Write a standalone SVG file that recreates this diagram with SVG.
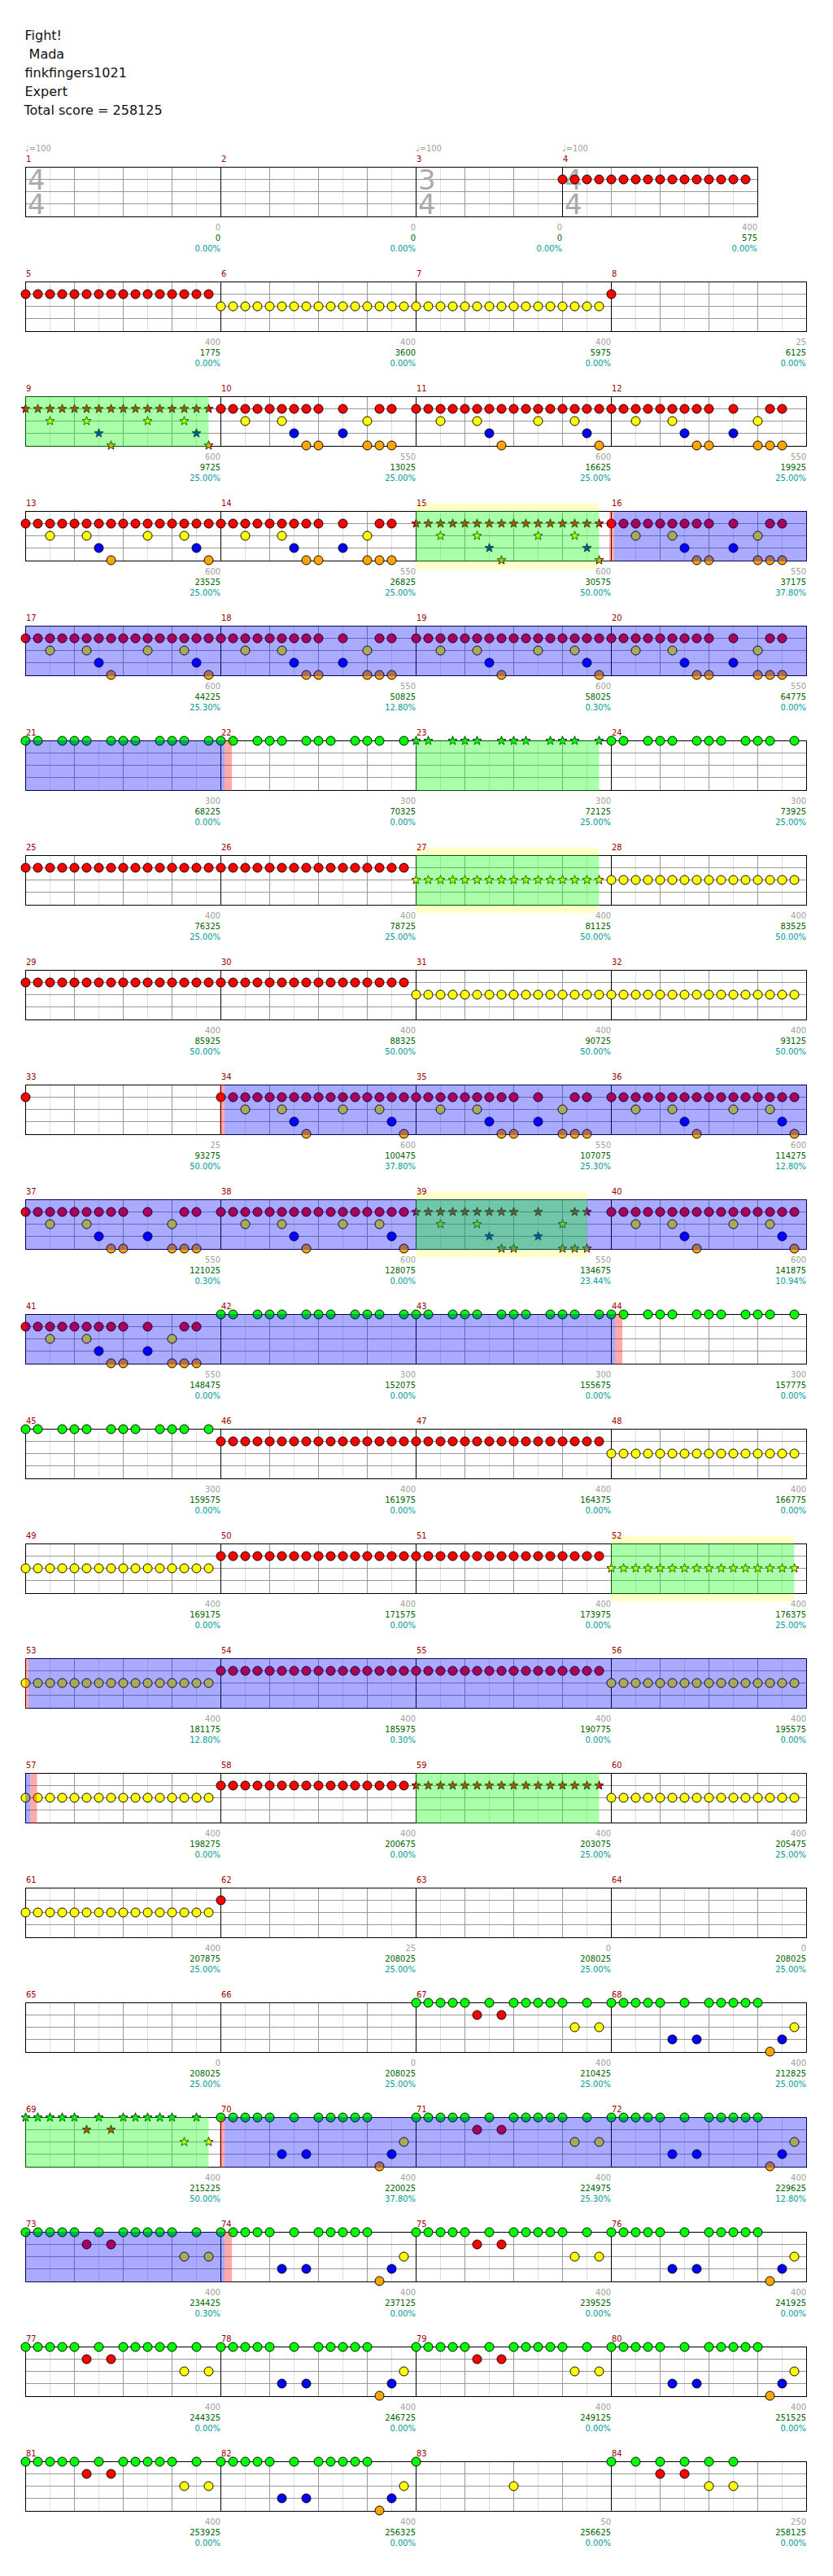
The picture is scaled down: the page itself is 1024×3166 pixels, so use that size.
<svg xmlns="http://www.w3.org/2000/svg" xmlns:xlink="http://www.w3.org/1999/xlink" width="1024" height="3166" viewBox="0 0 1024 3166">
<style>
.h{font:16px 'DejaVu Sans',sans-serif;fill:#111}
.n,.v,.s,.p,.t{font-family:'DejaVu Sans Condensed','DejaVu Sans',sans-serif;font-stretch:condensed;font-size:11px}
.n{fill:#990000}
.t{fill:#a0a0a0}
.v{fill:#a0a0a0;text-anchor:end}
.s{fill:#006400;text-anchor:end}
.p{fill:#009999;text-anchor:end}
.ts{font:34px 'DejaVu Sans',sans-serif;fill:#aaaaaa}
.c{stroke:#000;stroke-width:1}
.st{stroke:#000;stroke-width:0.8}
.ovB{fill:#0000ff;fill-opacity:0.333}
.ovG{fill:#00ff00;fill-opacity:0.333}
.ovR{fill:#ff0000;fill-opacity:0.333}
.bd{fill:#ffffcc}
</style>
<defs>
<circle id="cG" r="5.5" fill="#00ff00" class="c"/>
<circle id="cR" cy="15" r="5.5" fill="#ff0000" class="c"/>
<circle id="cY" cy="30" r="5.5" fill="#ffff00" class="c"/>
<circle id="cB" cy="45" r="5.5" fill="#0000ff" class="c"/>
<circle id="cO" cy="60" r="5.5" fill="#ffa500" class="c"/>
<path id="star" class="st" d="M0,-5.8L1.41,-1.94L5.52,-1.79L2.28,0.74L3.41,4.69L0,2.4L-3.41,4.69L-2.28,0.74L-5.52,-1.79L-1.41,-1.94Z"/>
<use id="sG" href="#star" fill="#00ff00"/>
<use id="sR" href="#star" y="15" fill="#ff0000"/>
<use id="sY" href="#star" y="30" fill="#ffff00"/>
<use id="sB" href="#star" y="45" fill="#0000ff"/>
<use id="sO" href="#star" y="60" fill="#ffa500"/>
<g id="R4"><use href="#cR"/><use href="#cR" x="15"/><use href="#cR" x="30"/><use href="#cR" x="45"/></g>
<g id="R16"><use href="#R4"/><use href="#R4" x="60"/><use href="#R4" x="120"/><use href="#R4" x="180"/></g>
<g id="Y4"><use href="#cY"/><use href="#cY" x="15"/><use href="#cY" x="30"/><use href="#cY" x="45"/></g>
<g id="Y16"><use href="#Y4"/><use href="#Y4" x="60"/><use href="#Y4" x="120"/><use href="#Y4" x="180"/></g>
<g id="sR4"><use href="#sR"/><use href="#sR" x="15"/><use href="#sR" x="30"/><use href="#sR" x="45"/></g>
<g id="sR16"><use href="#sR4"/><use href="#sR4" x="60"/><use href="#sR4" x="120"/><use href="#sR4" x="180"/></g>
<g id="sY4"><use href="#sY"/><use href="#sY" x="15"/><use href="#sY" x="30"/><use href="#sY" x="45"/></g>
<g id="sY16"><use href="#sY4"/><use href="#sY4" x="60"/><use href="#sY4" x="120"/><use href="#sY4" x="180"/></g>
<g id="P"><use href="#R16"/><use href="#cY" x="30"/><use href="#cY" x="75"/><use href="#cY" x="150"/><use href="#cY" x="195"/><use href="#cB" x="90"/><use href="#cB" x="210"/><use href="#cO" x="105"/><use href="#cO" x="225"/></g>
<g id="sP"><use href="#sR16"/><use href="#sY" x="30"/><use href="#sY" x="75"/><use href="#sY" x="150"/><use href="#sY" x="195"/><use href="#sB" x="90"/><use href="#sB" x="210"/><use href="#sO" x="105"/><use href="#sO" x="225"/></g>
<g id="Q"><use href="#R4"/><use href="#R4" x="60"/><use href="#cR" x="120"/><use href="#cR" x="150"/><use href="#cR" x="195"/><use href="#cR" x="210"/><use href="#cY" x="30"/><use href="#cY" x="75"/><use href="#cY" x="180"/><use href="#cB" x="90"/><use href="#cB" x="150"/><use href="#cO" x="105"/><use href="#cO" x="120"/><use href="#cO" x="180"/><use href="#cO" x="195"/><use href="#cO" x="210"/></g>
<g id="sQ"><use href="#sR4"/><use href="#sR4" x="60"/><use href="#sR" x="120"/><use href="#sR" x="150"/><use href="#sR" x="195"/><use href="#sR" x="210"/><use href="#sY" x="30"/><use href="#sY" x="75"/><use href="#sY" x="180"/><use href="#sB" x="90"/><use href="#sB" x="150"/><use href="#sO" x="105"/><use href="#sO" x="120"/><use href="#sO" x="180"/><use href="#sO" x="195"/><use href="#sO" x="210"/></g>
<g id="G1"><use href="#cG"/><use href="#cG" x="15"/><use href="#cG" x="45"/><use href="#cG" x="60"/><use href="#cG" x="75"/><use href="#cG" x="105"/><use href="#cG" x="120"/><use href="#cG" x="135"/><use href="#cG" x="165"/><use href="#cG" x="180"/><use href="#cG" x="195"/><use href="#cG" x="225"/></g>
<g id="sG1"><use href="#sG"/><use href="#sG" x="15"/><use href="#sG" x="45"/><use href="#sG" x="60"/><use href="#sG" x="75"/><use href="#sG" x="105"/><use href="#sG" x="120"/><use href="#sG" x="135"/><use href="#sG" x="165"/><use href="#sG" x="180"/><use href="#sG" x="195"/><use href="#sG" x="225"/></g>
<g id="H"><use href="#cG"/><use href="#cG" x="15"/><use href="#cG" x="30"/><use href="#cG" x="45"/><use href="#cG" x="60"/><use href="#cG" x="90"/><use href="#cG" x="120"/><use href="#cG" x="135"/><use href="#cG" x="150"/><use href="#cG" x="165"/><use href="#cG" x="180"/><use href="#cG" x="210"/><use href="#cR" x="75"/><use href="#cR" x="105"/><use href="#cY" x="195"/><use href="#cY" x="225"/></g>
<g id="sH"><use href="#sG"/><use href="#sG" x="15"/><use href="#sG" x="30"/><use href="#sG" x="45"/><use href="#sG" x="60"/><use href="#sG" x="90"/><use href="#sG" x="120"/><use href="#sG" x="135"/><use href="#sG" x="150"/><use href="#sG" x="165"/><use href="#sG" x="180"/><use href="#sG" x="210"/><use href="#sR" x="75"/><use href="#sR" x="105"/><use href="#sY" x="195"/><use href="#sY" x="225"/></g>
<g id="I"><use href="#cG"/><use href="#cG" x="15"/><use href="#cG" x="30"/><use href="#cG" x="45"/><use href="#cG" x="60"/><use href="#cG" x="90"/><use href="#cG" x="120"/><use href="#cG" x="135"/><use href="#cG" x="150"/><use href="#cG" x="165"/><use href="#cG" x="180"/><use href="#cB" x="75"/><use href="#cB" x="105"/><use href="#cB" x="210"/><use href="#cO" x="195"/><use href="#cY" x="225"/></g>
<g id="staff">
<rect x="31.5" y="0" width="960" height="61" fill="#fff"/>
<path d="M61.5 0V61M121.5 0V61M181.5 0V61M241.5 0V61M301.5 0V61M361.5 0V61M421.5 0V61M481.5 0V61M541.5 0V61M601.5 0V61M661.5 0V61M721.5 0V61M781.5 0V61M841.5 0V61M901.5 0V61M961.5 0V61" stroke="#dddddd"/>
<path d="M91.5 0V61M151.5 0V61M211.5 0V61M331.5 0V61M391.5 0V61M451.5 0V61M571.5 0V61M631.5 0V61M691.5 0V61M811.5 0V61M871.5 0V61M931.5 0V61M31.5 15H991.5M31.5 30H991.5M31.5 45H991.5" stroke="#999999"/>
<path d="M271.5 0V61M511.5 0V61M751.5 0V61" stroke="#000"/>
<rect x="31.5" y="0" width="960" height="61" fill="none" stroke="#000"/>
</g>
<g id="staff0">
<rect x="31.5" y="0" width="900" height="61" fill="#fff"/>
<path d="M61.5 0V61M121.5 0V61M181.5 0V61M241.5 0V61M301.5 0V61M361.5 0V61M421.5 0V61M481.5 0V61M541.5 0V61M601.5 0V61M661.5 0V61M721.5 0V61M781.5 0V61M841.5 0V61M901.5 0V61" stroke="#dddddd"/>
<path d="M91.5 0V61M151.5 0V61M211.5 0V61M331.5 0V61M391.5 0V61M451.5 0V61M571.5 0V61M631.5 0V61M751.5 0V61M811.5 0V61M871.5 0V61M31.5 15H931.5M31.5 30H931.5M31.5 45H931.5" stroke="#999999"/>
<path d="M271.5 0V61M511.5 0V61M691.5 0V61" stroke="#000"/>
<rect x="31.5" y="0" width="900" height="61" fill="none" stroke="#000"/>
</g>
</defs>
<rect width="1024" height="3166" fill="#fff"/>
<g id="header">
<text class="h" x="30.5" y="49">Fight!</text>
<text class="h" x="30.5" y="72" xml:space="preserve"> Mada</text>
<text class="h" x="30.5" y="95">finkfingers1021</text>
<text class="h" x="30.5" y="118">Expert</text>
<text class="h" x="29.5" y="141">Total score = 258125</text>
</g>

<g id="row0" transform="translate(0,205.5)">
<use href="#staff0"/>
<text class="ts" x="34" y="27.5">4<tspan x="34" y="57.5">4</tspan></text>
<text class="ts" x="514" y="27.5">3<tspan x="514" y="57.5">4</tspan></text>
<text class="ts" x="694" y="27.5">4<tspan x="694" y="57.5">4</tspan></text>
<g id="m1"><text class="t" x="31" y="-20">♩=100</text><text class="n" x="32" y="-7">1</text><text class="v" x="271" y="77">0</text><text class="s" x="271" y="90">0</text><text class="p" x="271" y="103">0.00%</text></g>
<g id="m2"><text class="n" x="272" y="-7">2</text><text class="v" x="511" y="77">0</text><text class="s" x="511" y="90">0</text><text class="p" x="511" y="103">0.00%</text></g>
<g id="m3"><text class="t" x="511" y="-20">♩=100</text><text class="n" x="512" y="-7">3</text><text class="v" x="691" y="77">0</text><text class="s" x="691" y="90">0</text><text class="p" x="691" y="103">0.00%</text></g>
<g id="m4"><text class="t" x="691" y="-20">♩=100</text><text class="n" x="692" y="-7">4</text><use href="#R16" x="691.5"/><text class="v" x="931" y="77">400</text><text class="s" x="931" y="90">575</text><text class="p" x="931" y="103">0.00%</text></g>
</g>

<g id="row1" transform="translate(0,346.5)">
<use href="#staff"/>
<g id="m5"><text class="n" x="32" y="-7">5</text><use href="#R16" x="31.5"/><text class="v" x="271" y="77">400</text><text class="s" x="271" y="90">1775</text><text class="p" x="271" y="103">0.00%</text></g>
<g id="m6"><text class="n" x="272" y="-7">6</text><use href="#Y16" x="271.5"/><text class="v" x="511" y="77">400</text><text class="s" x="511" y="90">3600</text><text class="p" x="511" y="103">0.00%</text></g>
<g id="m7"><text class="n" x="512" y="-7">7</text><use href="#Y16" x="511.5"/><text class="v" x="751" y="77">400</text><text class="s" x="751" y="90">5975</text><text class="p" x="751" y="103">0.00%</text></g>
<g id="m8"><text class="n" x="752" y="-7">8</text><use href="#cR" x="751.5"/><text class="v" x="991" y="77">25</text><text class="s" x="991" y="90">6125</text><text class="p" x="991" y="103">0.00%</text></g>
</g>

<g id="row2" transform="translate(0,487.5)">
<use href="#staff"/>
<g id="m9"><text class="n" x="32" y="-7">9</text><use href="#sP" x="31.5"/><text class="v" x="271" y="77">600</text><text class="s" x="271" y="90">9725</text><text class="p" x="271" y="103">25.00%</text></g>
<g id="m10"><text class="n" x="272" y="-7">10</text><use href="#Q" x="271.5"/><text class="v" x="511" y="77">550</text><text class="s" x="511" y="90">13025</text><text class="p" x="511" y="103">25.00%</text></g>
<g id="m11"><text class="n" x="512" y="-7">11</text><use href="#P" x="511.5"/><text class="v" x="751" y="77">600</text><text class="s" x="751" y="90">16625</text><text class="p" x="751" y="103">25.00%</text></g>
<g id="m12"><text class="n" x="752" y="-7">12</text><use href="#Q" x="751.5"/><text class="v" x="991" y="77">550</text><text class="s" x="991" y="90">19925</text><text class="p" x="991" y="103">25.00%</text></g>
<rect class="ovG" x="31" y="-0.5" width="225.5" height="62"/>
</g>

<g id="row3" transform="translate(0,628.5)">
<rect class="bd" x="511" y="-10" width="225" height="81"/>
<use href="#staff"/>
<g id="m13"><text class="n" x="32" y="-7">13</text><use href="#P" x="31.5"/><text class="v" x="271" y="77">600</text><text class="s" x="271" y="90">23525</text><text class="p" x="271" y="103">25.00%</text></g>
<g id="m14"><text class="n" x="272" y="-7">14</text><use href="#Q" x="271.5"/><text class="v" x="511" y="77">550</text><text class="s" x="511" y="90">26825</text><text class="p" x="511" y="103">25.00%</text></g>
<g id="m15"><text class="n" x="512" y="-7">15</text><use href="#sP" x="511.5"/><text class="v" x="751" y="77">600</text><text class="s" x="751" y="90">30575</text><text class="p" x="751" y="103">50.00%</text></g>
<g id="m16"><text class="n" x="752" y="-7">16</text><use href="#Q" x="751.5"/><text class="v" x="991" y="77">550</text><text class="s" x="991" y="90">37175</text><text class="p" x="991" y="103">37.80%</text></g>
<rect class="ovG" x="511" y="-0.5" width="225.5" height="62"/>
<rect class="ovR" x="749" y="-0.5" width="6" height="62"/>
<rect class="ovB" x="755" y="-0.5" width="237" height="62"/>
</g>

<g id="row4" transform="translate(0,769.5)">
<use href="#staff"/>
<g id="m17"><text class="n" x="32" y="-7">17</text><use href="#P" x="31.5"/><text class="v" x="271" y="77">600</text><text class="s" x="271" y="90">44225</text><text class="p" x="271" y="103">25.30%</text></g>
<g id="m18"><text class="n" x="272" y="-7">18</text><use href="#Q" x="271.5"/><text class="v" x="511" y="77">550</text><text class="s" x="511" y="90">50825</text><text class="p" x="511" y="103">12.80%</text></g>
<g id="m19"><text class="n" x="512" y="-7">19</text><use href="#P" x="511.5"/><text class="v" x="751" y="77">600</text><text class="s" x="751" y="90">58025</text><text class="p" x="751" y="103">0.30%</text></g>
<g id="m20"><text class="n" x="752" y="-7">20</text><use href="#Q" x="751.5"/><text class="v" x="991" y="77">550</text><text class="s" x="991" y="90">64775</text><text class="p" x="991" y="103">0.00%</text></g>
<rect class="ovB" x="31" y="-0.5" width="961" height="62"/>
</g>

<g id="row5" transform="translate(0,910.5)">
<use href="#staff"/>
<g id="m21"><text class="n" x="32" y="-7">21</text><use href="#G1" x="31.5"/><text class="v" x="271" y="77">300</text><text class="s" x="271" y="90">68225</text><text class="p" x="271" y="103">0.00%</text></g>
<g id="m22"><text class="n" x="272" y="-7">22</text><use href="#G1" x="271.5"/><text class="v" x="511" y="77">300</text><text class="s" x="511" y="90">70325</text><text class="p" x="511" y="103">0.00%</text></g>
<g id="m23"><text class="n" x="512" y="-7">23</text><use href="#sG1" x="511.5"/><text class="v" x="751" y="77">300</text><text class="s" x="751" y="90">72125</text><text class="p" x="751" y="103">25.00%</text></g>
<g id="m24"><text class="n" x="752" y="-7">24</text><use href="#G1" x="751.5"/><text class="v" x="991" y="77">300</text><text class="s" x="991" y="90">73925</text><text class="p" x="991" y="103">25.00%</text></g>
<rect class="ovB" x="31" y="-0.5" width="245" height="62"/>
<rect class="ovR" x="276" y="-0.5" width="9" height="62"/>
<rect class="ovG" x="511" y="-0.5" width="225.5" height="62"/>
</g>

<g id="row6" transform="translate(0,1051.5)">
<rect class="bd" x="511" y="-10" width="225" height="81"/>
<use href="#staff"/>
<g id="m25"><text class="n" x="32" y="-7">25</text><use href="#R16" x="31.5"/><text class="v" x="271" y="77">400</text><text class="s" x="271" y="90">76325</text><text class="p" x="271" y="103">25.00%</text></g>
<g id="m26"><text class="n" x="272" y="-7">26</text><use href="#R16" x="271.5"/><text class="v" x="511" y="77">400</text><text class="s" x="511" y="90">78725</text><text class="p" x="511" y="103">25.00%</text></g>
<g id="m27"><text class="n" x="512" y="-7">27</text><use href="#sY16" x="511.5"/><text class="v" x="751" y="77">400</text><text class="s" x="751" y="90">81125</text><text class="p" x="751" y="103">50.00%</text></g>
<g id="m28"><text class="n" x="752" y="-7">28</text><use href="#Y16" x="751.5"/><text class="v" x="991" y="77">400</text><text class="s" x="991" y="90">83525</text><text class="p" x="991" y="103">50.00%</text></g>
<rect class="ovG" x="511" y="-0.5" width="225.5" height="62"/>
</g>

<g id="row7" transform="translate(0,1192.5)">
<use href="#staff"/>
<g id="m29"><text class="n" x="32" y="-7">29</text><use href="#R16" x="31.5"/><text class="v" x="271" y="77">400</text><text class="s" x="271" y="90">85925</text><text class="p" x="271" y="103">50.00%</text></g>
<g id="m30"><text class="n" x="272" y="-7">30</text><use href="#R16" x="271.5"/><text class="v" x="511" y="77">400</text><text class="s" x="511" y="90">88325</text><text class="p" x="511" y="103">50.00%</text></g>
<g id="m31"><text class="n" x="512" y="-7">31</text><use href="#Y16" x="511.5"/><text class="v" x="751" y="77">400</text><text class="s" x="751" y="90">90725</text><text class="p" x="751" y="103">50.00%</text></g>
<g id="m32"><text class="n" x="752" y="-7">32</text><use href="#Y16" x="751.5"/><text class="v" x="991" y="77">400</text><text class="s" x="991" y="90">93125</text><text class="p" x="991" y="103">50.00%</text></g>
</g>

<g id="row8" transform="translate(0,1333.5)">
<use href="#staff"/>
<g id="m33"><text class="n" x="32" y="-7">33</text><use href="#cR" x="31.5"/><text class="v" x="271" y="77">25</text><text class="s" x="271" y="90">93275</text><text class="p" x="271" y="103">50.00%</text></g>
<g id="m34"><text class="n" x="272" y="-7">34</text><use href="#P" x="271.5"/><text class="v" x="511" y="77">600</text><text class="s" x="511" y="90">100475</text><text class="p" x="511" y="103">37.80%</text></g>
<g id="m35"><text class="n" x="512" y="-7">35</text><use href="#Q" x="511.5"/><text class="v" x="751" y="77">550</text><text class="s" x="751" y="90">107075</text><text class="p" x="751" y="103">25.30%</text></g>
<g id="m36"><text class="n" x="752" y="-7">36</text><use href="#P" x="751.5"/><text class="v" x="991" y="77">600</text><text class="s" x="991" y="90">114275</text><text class="p" x="991" y="103">12.80%</text></g>
<rect class="ovR" x="270" y="-0.5" width="6" height="62"/>
<rect class="ovB" x="276" y="-0.5" width="716" height="62"/>
</g>

<g id="row9" transform="translate(0,1474.5)">
<rect class="bd" x="511" y="-10" width="210" height="81"/>
<use href="#staff"/>
<g id="m37"><text class="n" x="32" y="-7">37</text><use href="#Q" x="31.5"/><text class="v" x="271" y="77">550</text><text class="s" x="271" y="90">121025</text><text class="p" x="271" y="103">0.30%</text></g>
<g id="m38"><text class="n" x="272" y="-7">38</text><use href="#P" x="271.5"/><text class="v" x="511" y="77">600</text><text class="s" x="511" y="90">128075</text><text class="p" x="511" y="103">0.00%</text></g>
<g id="m39"><text class="n" x="512" y="-7">39</text><use href="#sQ" x="511.5"/><text class="v" x="751" y="77">550</text><text class="s" x="751" y="90">134675</text><text class="p" x="751" y="103">23.44%</text></g>
<g id="m40"><text class="n" x="752" y="-7">40</text><use href="#P" x="751.5"/><text class="v" x="991" y="77">600</text><text class="s" x="991" y="90">141875</text><text class="p" x="991" y="103">10.94%</text></g>
<rect class="ovB" x="31" y="-0.5" width="961" height="62"/>
<rect class="ovG" x="511" y="-0.5" width="210.5" height="62"/>
</g>

<g id="row10" transform="translate(0,1615.5)">
<use href="#staff"/>
<g id="m41"><text class="n" x="32" y="-7">41</text><use href="#Q" x="31.5"/><text class="v" x="271" y="77">550</text><text class="s" x="271" y="90">148475</text><text class="p" x="271" y="103">0.00%</text></g>
<g id="m42"><text class="n" x="272" y="-7">42</text><use href="#G1" x="271.5"/><text class="v" x="511" y="77">300</text><text class="s" x="511" y="90">152075</text><text class="p" x="511" y="103">0.00%</text></g>
<g id="m43"><text class="n" x="512" y="-7">43</text><use href="#G1" x="511.5"/><text class="v" x="751" y="77">300</text><text class="s" x="751" y="90">155675</text><text class="p" x="751" y="103">0.00%</text></g>
<g id="m44"><text class="n" x="752" y="-7">44</text><use href="#G1" x="751.5"/><text class="v" x="991" y="77">300</text><text class="s" x="991" y="90">157775</text><text class="p" x="991" y="103">0.00%</text></g>
<rect class="ovB" x="31" y="-0.5" width="725" height="62"/>
<rect class="ovR" x="756" y="-0.5" width="9" height="62"/>
</g>

<g id="row11" transform="translate(0,1756.5)">
<use href="#staff"/>
<g id="m45"><text class="n" x="32" y="-7">45</text><use href="#G1" x="31.5"/><text class="v" x="271" y="77">300</text><text class="s" x="271" y="90">159575</text><text class="p" x="271" y="103">0.00%</text></g>
<g id="m46"><text class="n" x="272" y="-7">46</text><use href="#R16" x="271.5"/><text class="v" x="511" y="77">400</text><text class="s" x="511" y="90">161975</text><text class="p" x="511" y="103">0.00%</text></g>
<g id="m47"><text class="n" x="512" y="-7">47</text><use href="#R16" x="511.5"/><text class="v" x="751" y="77">400</text><text class="s" x="751" y="90">164375</text><text class="p" x="751" y="103">0.00%</text></g>
<g id="m48"><text class="n" x="752" y="-7">48</text><use href="#Y16" x="751.5"/><text class="v" x="991" y="77">400</text><text class="s" x="991" y="90">166775</text><text class="p" x="991" y="103">0.00%</text></g>
</g>

<g id="row12" transform="translate(0,1897.5)">
<rect class="bd" x="751" y="-10" width="225" height="81"/>
<use href="#staff"/>
<g id="m49"><text class="n" x="32" y="-7">49</text><use href="#Y16" x="31.5"/><text class="v" x="271" y="77">400</text><text class="s" x="271" y="90">169175</text><text class="p" x="271" y="103">0.00%</text></g>
<g id="m50"><text class="n" x="272" y="-7">50</text><use href="#R16" x="271.5"/><text class="v" x="511" y="77">400</text><text class="s" x="511" y="90">171575</text><text class="p" x="511" y="103">0.00%</text></g>
<g id="m51"><text class="n" x="512" y="-7">51</text><use href="#R16" x="511.5"/><text class="v" x="751" y="77">400</text><text class="s" x="751" y="90">173975</text><text class="p" x="751" y="103">0.00%</text></g>
<g id="m52"><text class="n" x="752" y="-7">52</text><use href="#sY16" x="751.5"/><text class="v" x="991" y="77">400</text><text class="s" x="991" y="90">176375</text><text class="p" x="991" y="103">25.00%</text></g>
<rect class="ovG" x="751" y="-0.5" width="225.5" height="62"/>
</g>

<g id="row13" transform="translate(0,2038.5)">
<use href="#staff"/>
<g id="m53"><text class="n" x="32" y="-7">53</text><use href="#Y16" x="31.5"/><text class="v" x="271" y="77">400</text><text class="s" x="271" y="90">181175</text><text class="p" x="271" y="103">12.80%</text></g>
<g id="m54"><text class="n" x="272" y="-7">54</text><use href="#R16" x="271.5"/><text class="v" x="511" y="77">400</text><text class="s" x="511" y="90">185975</text><text class="p" x="511" y="103">0.30%</text></g>
<g id="m55"><text class="n" x="512" y="-7">55</text><use href="#R16" x="511.5"/><text class="v" x="751" y="77">400</text><text class="s" x="751" y="90">190775</text><text class="p" x="751" y="103">0.00%</text></g>
<g id="m56"><text class="n" x="752" y="-7">56</text><use href="#Y16" x="751.5"/><text class="v" x="991" y="77">400</text><text class="s" x="991" y="90">195575</text><text class="p" x="991" y="103">0.00%</text></g>
<rect class="ovR" x="31" y="-0.5" width="4" height="62"/>
<rect class="ovB" x="35" y="-0.5" width="957" height="62"/>
</g>

<g id="row14" transform="translate(0,2179.5)">
<use href="#staff"/>
<g id="m57"><text class="n" x="32" y="-7">57</text><use href="#Y16" x="31.5"/><text class="v" x="271" y="77">400</text><text class="s" x="271" y="90">198275</text><text class="p" x="271" y="103">0.00%</text></g>
<g id="m58"><text class="n" x="272" y="-7">58</text><use href="#R16" x="271.5"/><text class="v" x="511" y="77">400</text><text class="s" x="511" y="90">200675</text><text class="p" x="511" y="103">0.00%</text></g>
<g id="m59"><text class="n" x="512" y="-7">59</text><use href="#sR16" x="511.5"/><text class="v" x="751" y="77">400</text><text class="s" x="751" y="90">203075</text><text class="p" x="751" y="103">25.00%</text></g>
<g id="m60"><text class="n" x="752" y="-7">60</text><use href="#Y16" x="751.5"/><text class="v" x="991" y="77">400</text><text class="s" x="991" y="90">205475</text><text class="p" x="991" y="103">25.00%</text></g>
<rect class="ovB" x="31" y="-0.5" width="6.5" height="62"/>
<rect class="ovR" x="37.5" y="-0.5" width="8" height="62"/>
<rect class="ovG" x="511" y="-0.5" width="225.5" height="62"/>
</g>

<g id="row15" transform="translate(0,2320.5)">
<use href="#staff"/>
<g id="m61"><text class="n" x="32" y="-7">61</text><use href="#Y16" x="31.5"/><text class="v" x="271" y="77">400</text><text class="s" x="271" y="90">207875</text><text class="p" x="271" y="103">25.00%</text></g>
<g id="m62"><text class="n" x="272" y="-7">62</text><use href="#cR" x="271.5"/><text class="v" x="511" y="77">25</text><text class="s" x="511" y="90">208025</text><text class="p" x="511" y="103">25.00%</text></g>
<g id="m63"><text class="n" x="512" y="-7">63</text><text class="v" x="751" y="77">0</text><text class="s" x="751" y="90">208025</text><text class="p" x="751" y="103">25.00%</text></g>
<g id="m64"><text class="n" x="752" y="-7">64</text><text class="v" x="991" y="77">0</text><text class="s" x="991" y="90">208025</text><text class="p" x="991" y="103">25.00%</text></g>
</g>

<g id="row16" transform="translate(0,2461.5)">
<use href="#staff"/>
<g id="m65"><text class="n" x="32" y="-7">65</text><text class="v" x="271" y="77">0</text><text class="s" x="271" y="90">208025</text><text class="p" x="271" y="103">25.00%</text></g>
<g id="m66"><text class="n" x="272" y="-7">66</text><text class="v" x="511" y="77">0</text><text class="s" x="511" y="90">208025</text><text class="p" x="511" y="103">25.00%</text></g>
<g id="m67"><text class="n" x="512" y="-7">67</text><use href="#H" x="511.5"/><text class="v" x="751" y="77">400</text><text class="s" x="751" y="90">210425</text><text class="p" x="751" y="103">25.00%</text></g>
<g id="m68"><text class="n" x="752" y="-7">68</text><use href="#I" x="751.5"/><text class="v" x="991" y="77">400</text><text class="s" x="991" y="90">212825</text><text class="p" x="991" y="103">25.00%</text></g>
</g>

<g id="row17" transform="translate(0,2602.5)">
<use href="#staff"/>
<g id="m69"><text class="n" x="32" y="-7">69</text><use href="#sH" x="31.5"/><text class="v" x="271" y="77">400</text><text class="s" x="271" y="90">215225</text><text class="p" x="271" y="103">50.00%</text></g>
<g id="m70"><text class="n" x="272" y="-7">70</text><use href="#I" x="271.5"/><text class="v" x="511" y="77">400</text><text class="s" x="511" y="90">220025</text><text class="p" x="511" y="103">37.80%</text></g>
<g id="m71"><text class="n" x="512" y="-7">71</text><use href="#H" x="511.5"/><text class="v" x="751" y="77">400</text><text class="s" x="751" y="90">224975</text><text class="p" x="751" y="103">25.30%</text></g>
<g id="m72"><text class="n" x="752" y="-7">72</text><use href="#I" x="751.5"/><text class="v" x="991" y="77">400</text><text class="s" x="991" y="90">229625</text><text class="p" x="991" y="103">12.80%</text></g>
<rect class="ovG" x="31" y="-0.5" width="225.5" height="62"/>
<rect class="ovR" x="270" y="-0.5" width="6" height="62"/>
<rect class="ovB" x="276" y="-0.5" width="716" height="62"/>
</g>

<g id="row18" transform="translate(0,2743.5)">
<use href="#staff"/>
<g id="m73"><text class="n" x="32" y="-7">73</text><use href="#H" x="31.5"/><text class="v" x="271" y="77">400</text><text class="s" x="271" y="90">234425</text><text class="p" x="271" y="103">0.30%</text></g>
<g id="m74"><text class="n" x="272" y="-7">74</text><use href="#I" x="271.5"/><text class="v" x="511" y="77">400</text><text class="s" x="511" y="90">237125</text><text class="p" x="511" y="103">0.00%</text></g>
<g id="m75"><text class="n" x="512" y="-7">75</text><use href="#H" x="511.5"/><text class="v" x="751" y="77">400</text><text class="s" x="751" y="90">239525</text><text class="p" x="751" y="103">0.00%</text></g>
<g id="m76"><text class="n" x="752" y="-7">76</text><use href="#I" x="751.5"/><text class="v" x="991" y="77">400</text><text class="s" x="991" y="90">241925</text><text class="p" x="991" y="103">0.00%</text></g>
<rect class="ovB" x="31" y="-0.5" width="245" height="62"/>
<rect class="ovR" x="276" y="-0.5" width="9" height="62"/>
</g>

<g id="row19" transform="translate(0,2884.5)">
<use href="#staff"/>
<g id="m77"><text class="n" x="32" y="-7">77</text><use href="#H" x="31.5"/><text class="v" x="271" y="77">400</text><text class="s" x="271" y="90">244325</text><text class="p" x="271" y="103">0.00%</text></g>
<g id="m78"><text class="n" x="272" y="-7">78</text><use href="#I" x="271.5"/><text class="v" x="511" y="77">400</text><text class="s" x="511" y="90">246725</text><text class="p" x="511" y="103">0.00%</text></g>
<g id="m79"><text class="n" x="512" y="-7">79</text><use href="#H" x="511.5"/><text class="v" x="751" y="77">400</text><text class="s" x="751" y="90">249125</text><text class="p" x="751" y="103">0.00%</text></g>
<g id="m80"><text class="n" x="752" y="-7">80</text><use href="#I" x="751.5"/><text class="v" x="991" y="77">400</text><text class="s" x="991" y="90">251525</text><text class="p" x="991" y="103">0.00%</text></g>
</g>

<g id="row20" transform="translate(0,3025.5)">
<use href="#staff"/>
<g id="m81"><text class="n" x="32" y="-7">81</text><use href="#H" x="31.5"/><text class="v" x="271" y="77">400</text><text class="s" x="271" y="90">253925</text><text class="p" x="271" y="103">0.00%</text></g>
<g id="m82"><text class="n" x="272" y="-7">82</text><use href="#I" x="271.5"/><text class="v" x="511" y="77">400</text><text class="s" x="511" y="90">256325</text><text class="p" x="511" y="103">0.00%</text></g>
<g id="m83"><text class="n" x="512" y="-7">83</text><use href="#cG" x="511.5"/><use href="#cY" x="631.5"/><text class="v" x="751" y="77">50</text><text class="s" x="751" y="90">256625</text><text class="p" x="751" y="103">0.00%</text></g>
<g id="m84"><text class="n" x="752" y="-7">84</text><use href="#cG" x="751.5"/><use href="#cG" x="781.5"/><use href="#cG" x="811.5"/><use href="#cG" x="841.5"/><use href="#cG" x="871.5"/><use href="#cG" x="901.5"/><use href="#cR" x="811.5"/><use href="#cR" x="841.5"/><use href="#cY" x="871.5"/><use href="#cY" x="901.5"/><text class="v" x="991" y="77">250</text><text class="s" x="991" y="90">258125</text><text class="p" x="991" y="103">0.00%</text></g>
</g>
</svg>
